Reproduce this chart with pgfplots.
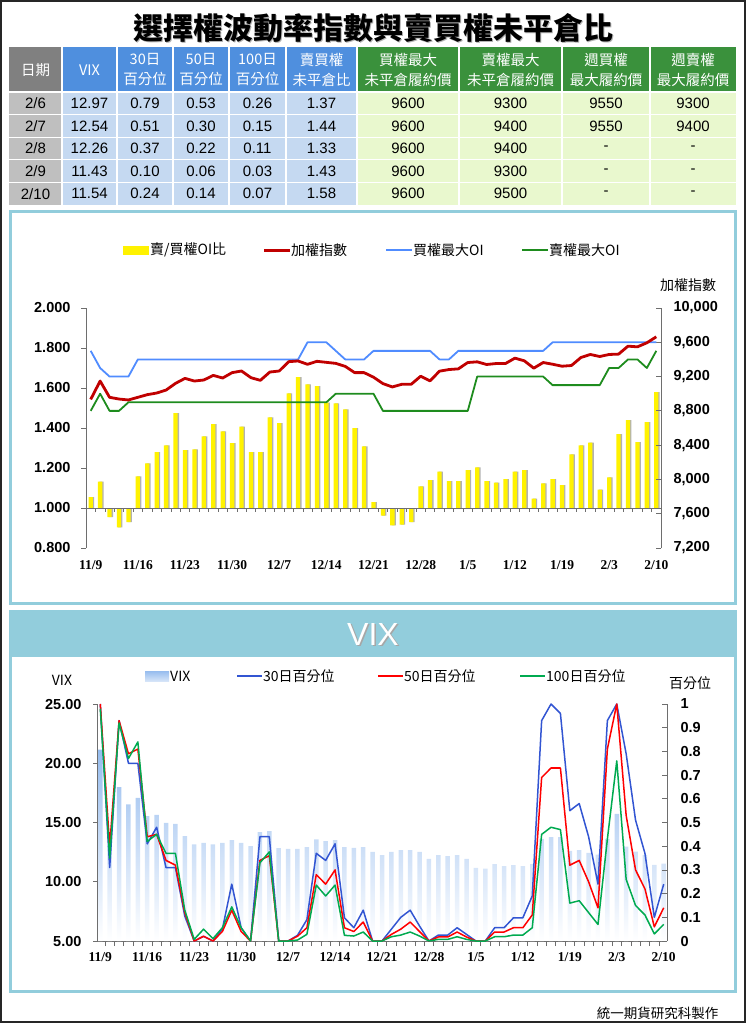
\documentclass[border=0pt]{standalone}
\usepackage{fontspec}
\setmainfont{Liberation Sans}
\newfontfamily\cjk{Noto Sans CJK TC}
\newfontfamily\serifb{Liberation Serif}
\usepackage{pgfplots}
\pgfplotsset{compat=1.18}
\usepackage{pgfplotstable}

\definecolor{panelblue}{RGB}{146,205,220}
\definecolor{hgray}{RGB}{128,128,128}
\definecolor{hblue}{RGB}{79,143,222}
\definecolor{hgreen}{RGB}{58,145,60}
\definecolor{dgray}{RGB}{191,191,191}
\definecolor{dblue}{RGB}{197,217,241}
\definecolor{dgreen}{RGB}{233,248,206}
\definecolor{taiex}{RGB}{192,0,0}
\definecolor{callc}{RGB}{80,140,255}
\definecolor{putc}{RGB}{30,140,30}
\definecolor{vixbar}{RGB}{150,188,238}
\definecolor{p30c}{RGB}{50,85,210}
\definecolor{p50c}{RGB}{255,0,0}
\definecolor{p100c}{RGB}{0,170,80}
\definecolor{axgray}{RGB}{110,110,110}

\pgfplotstableread{
i r tx bc pc
0 1.055 8934 9500 8800
1 1.132 9148 9300 9000
2 0.955 8958 9200 8800
3 0.903 8938 9200 8800
4 0.930 8927 9200 8900
5 1.158 8958 9400 8900
6 1.223 8989 9400 8900
7 1.280 9008 9400 8900
8 1.313 9043 9400 8900
9 1.475 9121 9400 8900
10 1.290 9179 9400 8900
11 1.293 9148 9400 8900
12 1.358 9160 9400 8900
13 1.420 9214 9400 8900
14 1.383 9183 9400 8900
15 1.325 9246 9400 8900
16 1.407 9265 9400 8900
17 1.280 9187 9400 8900
18 1.280 9156 9400 8900
19 1.453 9253 9400 8900
20 1.425 9265 9400 8900
21 1.573 9374 9400 8900
22 1.655 9382 9400 8900
23 1.618 9343 9600 8900
24 1.610 9378 9600 8900
25 1.527 9366 9600 8900
26 1.523 9354 9500 9000
27 1.493 9319 9400 9000
28 1.400 9246 9400 9000
29 1.308 9246 9400 9000
30 1.030 9193 9500 9000
31 0.962 9118 9500 8800
32 0.913 9079 9500 8800
33 0.917 9110 9500 8800
34 0.930 9110 9500 8800
35 1.108 9204 9500 8800
36 1.140 9150 9500 8800
37 1.182 9263 9400 8800
38 1.135 9282 9400 8800
39 1.135 9290 9500 8800
40 1.190 9364 9500 8800
41 1.203 9372 9500 9200
42 1.135 9341 9500 9200
43 1.127 9352 9500 9200
44 1.145 9352 9500 9200
45 1.182 9415 9500 9200
46 1.190 9384 9500 9200
47 1.047 9298 9500 9200
48 1.123 9364 9500 9200
49 1.145 9344 9600 9100
50 1.115 9321 9600 9100
51 1.268 9329 9600 9100
52 1.313 9422 9600 9100
53 1.327 9458 9600 9100
54 1.092 9434 9600 9100
55 1.153 9458 9600 9300
56 1.37 9462 9600 9300
57 1.44 9555 9600 9400
58 1.33 9547 9600 9400
59 1.43 9594 9600 9300
60 1.58 9664 9600 9500
}\upper

\pgfplotstableread{
i vix p30 p50 p100
0 21.15 1.00 1.00 0.98
1 13.00 0.31 0.40 0.35
2 17.98 0.93 0.93 0.92
3 16.52 0.75 0.79 0.77
4 17.08 0.75 0.81 0.84
5 15.53 0.41 0.44 0.42
6 15.65 0.48 0.45 0.45
7 14.97 0.31 0.34 0.37
8 14.89 0.31 0.32 0.37
9 13.85 0.105 0.12 0.13
10 13.15 0 0 0.007
11 13.29 0.02 0.02 0.05
12 13.15 0 0 0.01
13 13.29 0.05 0.04 0.056
14 13.51 0.24 0.13 0.144
15 13.29 0.056 0.04 0.056
16 13.00 0 0 0
17 14.19 0.44 0.34 0.33
18 14.27 0.44 0.36 0.376
19 12.84 0 0 0
20 12.78 0 0 0
21 12.78 0.024 0.02 0.004
22 12.92 0.09 0.056 0.028
23 13.57 0.37 0.28 0.236
24 13.43 0.34 0.24 0.19
25 13.51 0.41 0.30 0.236
26 12.92 0.098 0.056 0.024
27 12.87 0.056 0.04 0.021
28 12.92 0.13 0.08 0.038
29 12.53 0 0 0
30 12.25 0 0 0
31 12.53 0.05 0.028 0.018
32 12.67 0.10 0.05 0.025
33 12.67 0.13 0.08 0.038
34 12.53 0.063 0.04 0.021
35 11.94 0 0 0
36 12.25 0.025 0.017 0.007
37 12.16 0.025 0.017 0.007
38 12.25 0.056 0.038 0.018
39 11.94 0.028 0.017 0.007
40 11.18 0 0 0
41 11.10 0 0 0
42 11.49 0.056 0.038 0.018
43 11.32 0.056 0.038 0.018
44 11.40 0.098 0.056 0.025
45 11.32 0.098 0.056 0.025
46 11.49 0.19 0.11 0.056
47 13.62 0.93 0.69 0.45
48 13.76 1.00 0.73 0.48
49 13.76 0.96 0.73 0.47
50 12.61 0.55 0.32 0.16
51 12.67 0.58 0.34 0.17
52 12.44 0.44 0.25 0.12
53 12.30 0.24 0.14 0.07
54 13.62 0.93 0.81 0.43
55 15.73 1.00 1.00 0.76
56 12.97 0.79 0.53 0.26
57 12.54 0.51 0.30 0.15
58 12.26 0.37 0.22 0.11
59 11.43 0.10 0.06 0.03
60 11.54 0.24 0.14 0.07
}\vixdata

\newcommand\tabfont{\fontsize{15}{18}\selectfont}
\newcommand\headfont{\cjk\fontsize{14.5}{20}\selectfont}
\newcommand\legfont{\cjk\fontsize{14}{16}\selectfont}
\newcommand\rowA[7]{%
 \node[font=\tabfont] at (35.5,#1) {#2};
 \node[font=\tabfont] at (89.5,#1) {#3};
 \node[font=\tabfont] at (145,#1) {#4};
 \node[font=\tabfont] at (201,#1) {#5};
 \node[font=\tabfont] at (257.5,#1) {#6};
 \node[font=\tabfont] at (321.5,#1) {#7};}
\newcommand\rowB[5]{%
 \node[font=\tabfont] at (408,#1) {#2};
 \node[font=\tabfont] at (510.5,#1) {#3};
 \node[font=\tabfont] at (606,#1) {#4};
 \node[font=\tabfont] at (693,#1) {#5};}

\begin{document}
\begin{tikzpicture}
\useasboundingbox (0,0) rectangle (746pt,-1024pt);
\begin{scope}[x=1pt,y=-1pt]
\draw[black!85, line width=1.5pt] (1,1) rectangle (745,1022);
% title
\node[text=black!30, font=\cjk\bfseries\fontsize{30}{36}\selectfont] at (374.5,29.5) {選擇權波動率指數與賣買權未平倉比};
\node[font=\cjk\bfseries\fontsize{30}{36}\selectfont] at (373,28) {選擇權波動率指數與賣買權未平倉比};
% table
\fill[hgray] (9,47) rectangle (62,92);
\fill[hblue] (62,47) rectangle (357,92);
\fill[hgreen] (357,47) rectangle (736,92);
\fill[dgray] (9,92) rectangle (62,205);
\fill[dblue] (62,92) rectangle (357,205);
\fill[dgreen] (357,92) rectangle (736,205);
\foreach \x in {62,117,173,229,286,357,459,562,650} \draw[white, line width=1.2pt] (\x,47) -- (\x,205);
\foreach \y in {92,114.6,137.2,159.8,182.4} \draw[white, line width=1.2pt] (9,\y) -- (736,\y);
\node[text=white, font=\headfont] at (35.5,70) {日期};
\node[text=white, font=\headfont] at (89.5,70) {VIX};
\node[text=white, font=\headfont, align=center] at (145,70) {30日\\百分位};
\node[text=white, font=\headfont, align=center] at (201,70) {50日\\百分位};
\node[text=white, font=\headfont, align=center] at (257.5,70) {100日\\百分位};
\node[text=white, font=\headfont, align=center] at (321.5,70) {賣買權\\未平倉比};
\node[text=white, font=\headfont, align=center] at (408,70) {買權最大\\未平倉履約價};
\node[text=white, font=\headfont, align=center] at (510.5,70) {賣權最大\\未平倉履約價};
\node[text=white, font=\headfont, align=center] at (606,70) {週買權\\最大履約價};
\node[text=white, font=\headfont, align=center] at (693,70) {週賣權\\最大履約價};
\rowA{103.3}{2/6}{12.97}{0.79}{0.53}{0.26}{1.37}
\rowA{125.9}{2/7}{12.54}{0.51}{0.30}{0.15}{1.44}
\rowA{148.5}{2/8}{12.26}{0.37}{0.22}{0.11}{1.33}
\rowA{171.1}{2/9}{11.43}{0.10}{0.06}{0.03}{1.43}
\rowA{193.7}{2/10}{11.54}{0.24}{0.14}{0.07}{1.58}
\rowB{103.3}{9600}{9300}{9550}{9300}
\rowB{125.9}{9600}{9400}{9550}{9400}
\rowB{148.5}{9600}{9400}{-}{-}
\rowB{171.1}{9600}{9300}{-}{-}
\rowB{193.7}{9600}{9500}{-}{-}
% upper panel
\draw[panelblue, line width=3pt] (10.5,211.5) rectangle (735,603);
\fill[yellow] (123,245.5) rectangle (149,254.5);
\node[anchor=west, font=\legfont, inner sep=1pt] at (149,250) {賣/買權OI比};
\draw[taiex, line width=3pt] (264,250) -- (290,250);
\node[anchor=west, font=\legfont, inner sep=1pt] at (290,250) {加權指數};
\draw[callc, line width=2pt] (386,250) -- (412,250);
\node[anchor=west, font=\legfont, inner sep=1pt] at (412,250) {買權最大OI};
\draw[putc, line width=2pt] (522,250) -- (548,250);
\node[anchor=west, font=\legfont, inner sep=1pt] at (548,250) {賣權最大OI};
\node[font=\legfont] at (688,285) {加權指數};
% VIX panel
\draw[panelblue, line width=3pt] (10.5,611) rectangle (735,991);
\fill[panelblue] (10.5,611) rectangle (735,657);
\node[text=black!35, font=\fontsize{32}{36}\selectfont] at (374.5,635.5) {VIX};
\node[text=white, font=\fontsize{32}{36}\selectfont] at (373,634) {VIX};
\shade[top color=vixbar, bottom color=vixbar!40] (145,671) rectangle (169,681);
\node[anchor=west, font=\legfont, inner sep=1pt] at (169,676) {VIX};
\draw[p30c, line width=1.5pt] (237,676) -- (262,676);
\node[anchor=west, font=\legfont, inner sep=1pt] at (262,676) {30日百分位};
\draw[p50c, line width=1.5pt] (378,676) -- (403,676);
\node[anchor=west, font=\legfont, inner sep=1pt] at (403,676) {50日百分位};
\draw[p100c, line width=1.5pt] (520,676) -- (545,676);
\node[anchor=west, font=\legfont, inner sep=1pt] at (545,676) {100日百分位};
\node[font=\legfont] at (62,680) {VIX};
\node[font=\legfont] at (690,683) {百分位};
\node[anchor=east, font=\cjk\fontsize{13.5}{16}\selectfont] at (722,1013) {統一期貨研究科製作};
\end{scope}

% upper chart: ratio bars
\begin{axis}[
 at={(86pt,-548pt)}, anchor=south west, scale only axis,
 width=575pt, height=240pt,
 xmin=-0.5, xmax=60.5, ymin=-0.2, ymax=1.0,
 axis x line*=bottom, axis y line*=left,
 axis line style={-},
 x axis line style={draw=none},
 y axis line style={draw=axgray, line width=0.8pt},
 xtick={0,5,...,60},
 xticklabels={11/9,11/16,11/23,11/30,12/7,12/14,12/21,12/28,1/5,1/12,1/19,2/3,2/10},
 major x tick style={draw=none},
 ytick={-0.2,0,0.2,0.4,0.6,0.8,1.0},
 yticklabels={0.800,1.000,1.200,1.400,1.600,1.800,2.000},
 ytick style={draw=axgray, line width=0.8pt},
 tick align=outside, major tick length=5pt,
 yticklabel style={font=\bfseries\fontsize{14.5}{16}\selectfont, xshift=-7pt},
 xticklabel style={font=\serifb\bfseries\fontsize{13.5}{16}\selectfont, yshift=-4pt},
 ybar, bar width=4.3pt,
]
\addplot[fill=gray!60, draw=none, bar shift=1.3pt] table[x=i, y expr=\thisrow{r}-1] {\upper};
\addplot[fill=yellow, draw=none, bar shift=0pt] table[x=i, y expr=\thisrow{r}-1] {\upper};
\draw[axgray, line width=0.8pt] (axis cs:-0.5,0) -- (axis cs:60.5,0);
\pgfplotsinvokeforeach{-0.5,0.5,...,60.5}{\draw[axgray, line width=0.6pt] (axis cs:#1,0) -- ++(0pt,-4pt);}
\end{axis}

% upper chart: lines
\begin{axis}[
 at={(86pt,-548pt)}, anchor=south west, scale only axis,
 width=575pt, height=240pt, clip=false,
 xmin=-0.5, xmax=60.5, ymin=7200, ymax=10000,
 axis x line=none, axis y line*=right,
 axis line style={-},
 y axis line style={draw=axgray, line width=0.8pt},
 scaled y ticks=false,
 ytick={7200,7600,8000,8400,8800,9200,9600,10000},
 yticklabels={{7,200},{7,600},{8,000},{8,400},{8,800},{9,200},{9,600},{10,000}},
 ytick style={draw=axgray, line width=0.8pt},
 tick align=inside, major tick length=5pt,
 yticklabel style={font=\bfseries\fontsize{14.5}{16}\selectfont, anchor=west, xshift=9pt},
]
\addplot[callc, line width=1.8pt, line join=round, mark=none] table[x=i,y=bc]{\upper};
\addplot[putc, line width=1.8pt, line join=round, mark=none] table[x=i,y=pc]{\upper};
\addplot[taiex, line width=2.8pt, line join=round, mark=none] table[x=i,y=tx]{\upper};
\end{axis}

% VIX chart: bars
\begin{axis}[
 at={(97pt,-941pt)}, anchor=south west, scale only axis,
 width=570pt, height=237pt,
 xmin=-0.35, xmax=60.35, ymin=0, ymax=20,
 axis x line*=bottom, axis y line*=left,
 axis line style={-, draw=axgray, line width=0.8pt},
 xtick={0,5,...,60},
 xticklabels={11/9,11/16,11/23,11/30,12/7,12/14,12/21,12/28,1/5,1/12,1/19,2/3,2/10},
 major x tick style={draw=none},
 minor xtick={0.5,1.5,...,59.5},
 minor x tick style={draw=axgray, line width=0.6pt},
 minor tick length=5pt,
 ytick={0,5,10,15,20},
 yticklabels={5.00,10.00,15.00,20.00,25.00},
 ytick style={draw=axgray, line width=0.8pt},
 tick align=outside, major tick length=4pt,
 yticklabel style={font=\bfseries\fontsize{14.5}{16}\selectfont, xshift=-8pt},
 xticklabel style={font=\serifb\bfseries\fontsize{13.5}{16}\selectfont, yshift=-4pt},
 ybar, bar width=4.5pt,
]
\addplot[draw=none, bar shift=0pt, top color=vixbar, bottom color=white] table[x=i, y expr=\thisrow{vix}-5] {\vixdata};
\end{axis}

% VIX chart: percentiles
\begin{axis}[
 at={(97pt,-941pt)}, anchor=south west, scale only axis,
 width=570pt, height=237pt, clip=false,
 xmin=-0.35, xmax=60.35, ymin=0, ymax=1,
 axis x line=none, axis y line*=right,
 axis line style={-, draw=axgray, line width=0.8pt},
 ytick={0,0.1,0.2,0.3,0.4,0.5,0.6,0.7,0.8,0.9,1},
 yticklabels={0,0.1,0.2,0.3,0.4,0.5,0.6,0.7,0.8,0.9,1},
 ytick style={draw=axgray, line width=0.8pt},
 tick align=inside, major tick length=5pt,
 yticklabel style={font=\bfseries\fontsize{14.5}{16}\selectfont, anchor=west, xshift=10pt},
]
\addplot[p30c, line width=1.5pt, line join=round, mark=none] table[x=i,y=p30]{\vixdata};
\addplot[p50c, line width=1.5pt, line join=round, mark=none] table[x=i,y=p50]{\vixdata};
\addplot[p100c, line width=1.5pt, line join=round, mark=none] table[x=i,y=p100]{\vixdata};
\end{axis}
\end{tikzpicture}
\end{document}
